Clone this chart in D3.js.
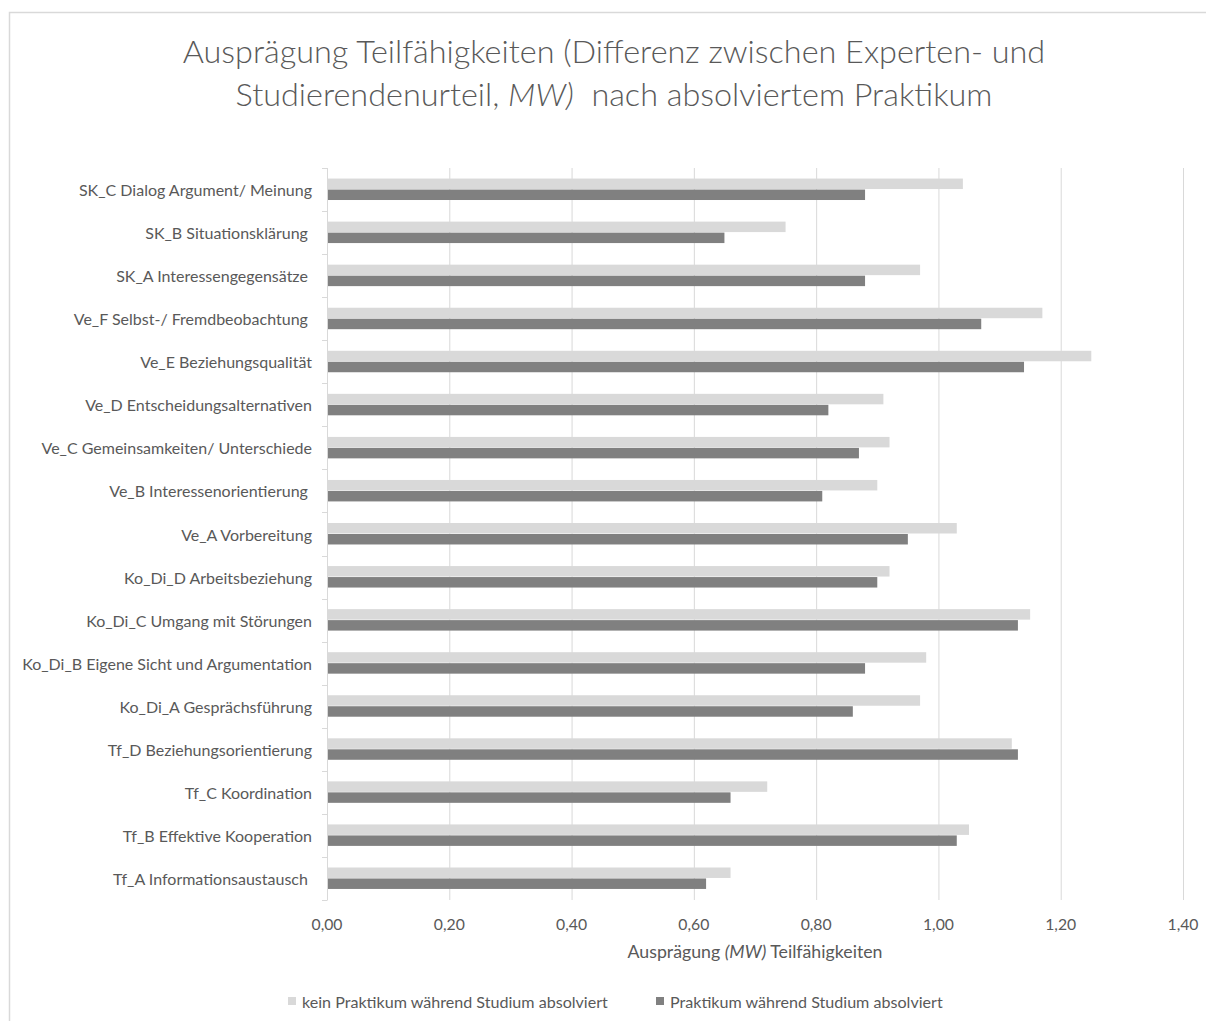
<!DOCTYPE html>
<html>
<head>
<meta charset="utf-8">
<script src="https://cdn.jsdelivr.net/npm/d3@7/dist/d3.min.js"></script>
<style>
  html, body { margin: 0; padding: 0; background: #fff; }
  svg { display: block; font-family: Lato, "Open Sans", sans-serif; }
  text { white-space: pre; }
</style>
</head>
<body>
<svg id="chart" width="1206" height="1021"></svg>
<script>
const categories = [
  "SK_C Dialog Argument/ Meinung",
  "SK_B Situationsklärung ",
  "SK_A Interessengegensätze ",
  "Ve_F Selbst-/ Fremdbeobachtung ",
  "Ve_E Beziehungsqualität",
  "Ve_D Entscheidungsalternativen",
  "Ve_C Gemeinsamkeiten/ Unterschiede",
  "Ve_B Interessenorientierung ",
  "Ve_A Vorbereitung",
  "Ko_Di_D Arbeitsbeziehung",
  "Ko_Di_C Umgang mit Störungen",
  "Ko_Di_B Eigene Sicht und Argumentation",
  "Ko_Di_A Gesprächsführung",
  "Tf_D Beziehungsorientierung",
  "Tf_C Koordination",
  "Tf_B Effektive Kooperation",
  "Tf_A Informationsaustausch "
];
const keinPraktikum = [1.04, 0.75, 0.97, 1.17, 1.25, 0.91, 0.92, 0.90, 1.03, 0.92, 1.15, 0.98, 0.97, 1.12, 0.72, 1.05, 0.66];
const praktikum     = [0.88, 0.65, 0.88, 1.07, 1.14, 0.82, 0.87, 0.81, 0.95, 0.90, 1.13, 0.88, 0.86, 1.13, 0.66, 1.03, 0.62];
const seriesNames = ["kein Praktikum während Studium absolviert", "Praktikum während Studium absolviert"];
const xTicks = [0, 0.2, 0.4, 0.6, 0.8, 1.0, 1.2, 1.4];
const titleLines = ["Ausprägung Teilfähigkeiten (Differenz zwischen Experten- und", ["Studierendenurteil, ", "MW)", "  nach absolviertem Praktikum"]];

const textColor = "#595959";
const gridColor = "#d9d9d9";
const colors = ["#d9d9d9", "#808080"];

const svg = d3.select("#chart");

// font size that makes a probe text reach a target width
function fitSize(str, target, weight) {
  const probe = svg.append("text").attr("font-size", 20).attr("font-weight", weight || 400)
    .style("white-space", "normal").text(str);
  const w = probe.node().getComputedTextLength();
  probe.remove();
  return 20 * target / w;
}

// outer chart border
svg.append("path")
  .attr("d", "M9.5,1021 V12.5 H1206")
  .attr("fill", "none").attr("stroke", "#d9d9d9").attr("stroke-width", 1.5);

const plot = { left: 327, right: 1183, top: 168, bottom: 900 };

const x = d3.scaleLinear().domain([0, 1.4]).range([plot.left, plot.right]);
const y = d3.scaleBand().domain(categories).range([plot.top, plot.bottom])
  .paddingInner(0.49).paddingOuter(0.245);
const ySub = d3.scaleBand().domain([0, 1]).range([0, y.bandwidth()]).padding(0);

// gridlines
svg.append("g").selectAll("line").data(xTicks.filter(d => d > 0)).join("line")
  .attr("x1", d => x(d) + 0.5).attr("x2", d => x(d) + 0.5)
  .attr("y1", plot.top).attr("y2", plot.bottom)
  .attr("stroke", gridColor).attr("stroke-width", 1);

// x tick labels
const fmt = d => d3.format(".2f")(d).replace(".", ",");
const tickSize = fitSize("1,20", 31);
svg.append("g").selectAll("text").data(xTicks).join("text")
  .attr("x", d => x(d)).attr("y", 923)
  .attr("text-anchor", "middle").attr("dominant-baseline", "central")
  .attr("font-size", tickSize).attr("fill", textColor)
  .text(fmt);

// bars
const rows = categories.map((c, i) => ({ c, vals: [keinPraktikum[i], praktikum[i]] }));
const g = svg.append("g");
rows.forEach(r => {
  r.vals.forEach((v, s) => {
    g.append("rect")
      .attr("x", x(0) + 1)
      .attr("y", y(r.c) + ySub(s))
      .attr("width", x(v) - x(0) - 1)
      .attr("height", ySub.bandwidth() - 0.5)
      .attr("fill", colors[s]);
  });
});

// y axis line + ticks
const yAxis = svg.append("g");
yAxis.append("line")
  .attr("x1", plot.left + 0.5).attr("x2", plot.left + 0.5)
  .attr("y1", plot.top).attr("y2", plot.bottom)
  .attr("stroke", gridColor).attr("stroke-width", 1);
const boundaries = [plot.top].concat(categories.map(c => y(c) - y.step() * y.paddingInner() / 2 + y.step()));
yAxis.selectAll("line.tick").data(boundaries).join("line").attr("class", "tick")
  .attr("x1", plot.left - 5).attr("x2", plot.left + 0.5)
  .attr("y1", d => Math.round(d) + 0.5).attr("y2", d => Math.round(d) + 0.5)
  .attr("stroke", gridColor).attr("stroke-width", 1);

// category labels
const labelSize = fitSize("Ko_Di_B Eigene Sicht und Argumentation", 290);
svg.append("g").selectAll("text").data(categories).join("text")
  .attr("x", 312).attr("y", d => y(d) + y.bandwidth() / 2)
  .attr("text-anchor", "end").attr("dominant-baseline", "central")
  .attr("font-size", labelSize).attr("fill", textColor)
  .text(d => d);

// title
const titleSize = fitSize(titleLines[0], 863, 300);
const title = svg.append("g").attr("fill", textColor).attr("font-size", titleSize).attr("font-weight", 300);
title.append("text").attr("x", 614).attr("y", 50)
  .attr("text-anchor", "middle").attr("dominant-baseline", "central")
  .text(titleLines[0]);
const t2 = title.append("text").attr("x", 614).attr("y", 93)
  .attr("text-anchor", "middle").attr("dominant-baseline", "central");
t2.append("tspan").text(titleLines[1][0]);
t2.append("tspan").attr("font-style", "italic").text(titleLines[1][1]);
t2.append("tspan").text(titleLines[1][2]);

// axis title
const axisSize = fitSize("Ausprägung (MW) Teilfähigkeiten", 258);
const at = svg.append("text").attr("x", (plot.left + plot.right) / 2).attr("y", 951)
  .attr("text-anchor", "middle").attr("dominant-baseline", "central")
  .attr("font-size", axisSize).attr("fill", textColor);
at.append("tspan").text("Ausprägung ");
at.append("tspan").attr("font-style", "italic").text("(MW)");
at.append("tspan").text(" Teilfähigkeiten");

// legend
const legendSize = fitSize(seriesNames[0], 306);
const legendX = [288, 656];
const leg = svg.append("g").selectAll("g").data(seriesNames).join("g")
  .attr("transform", (d, i) => `translate(${legendX[i]},1001)`);
leg.append("rect").attr("x", 0).attr("y", -4).attr("width", 8).attr("height", 8)
  .attr("fill", (d, i) => colors[i]);
leg.append("text").attr("x", 14).attr("y", 0)
  .attr("dominant-baseline", "central").attr("font-size", legendSize).attr("fill", textColor)
  .text(d => d);
</script>
</body>
</html>
